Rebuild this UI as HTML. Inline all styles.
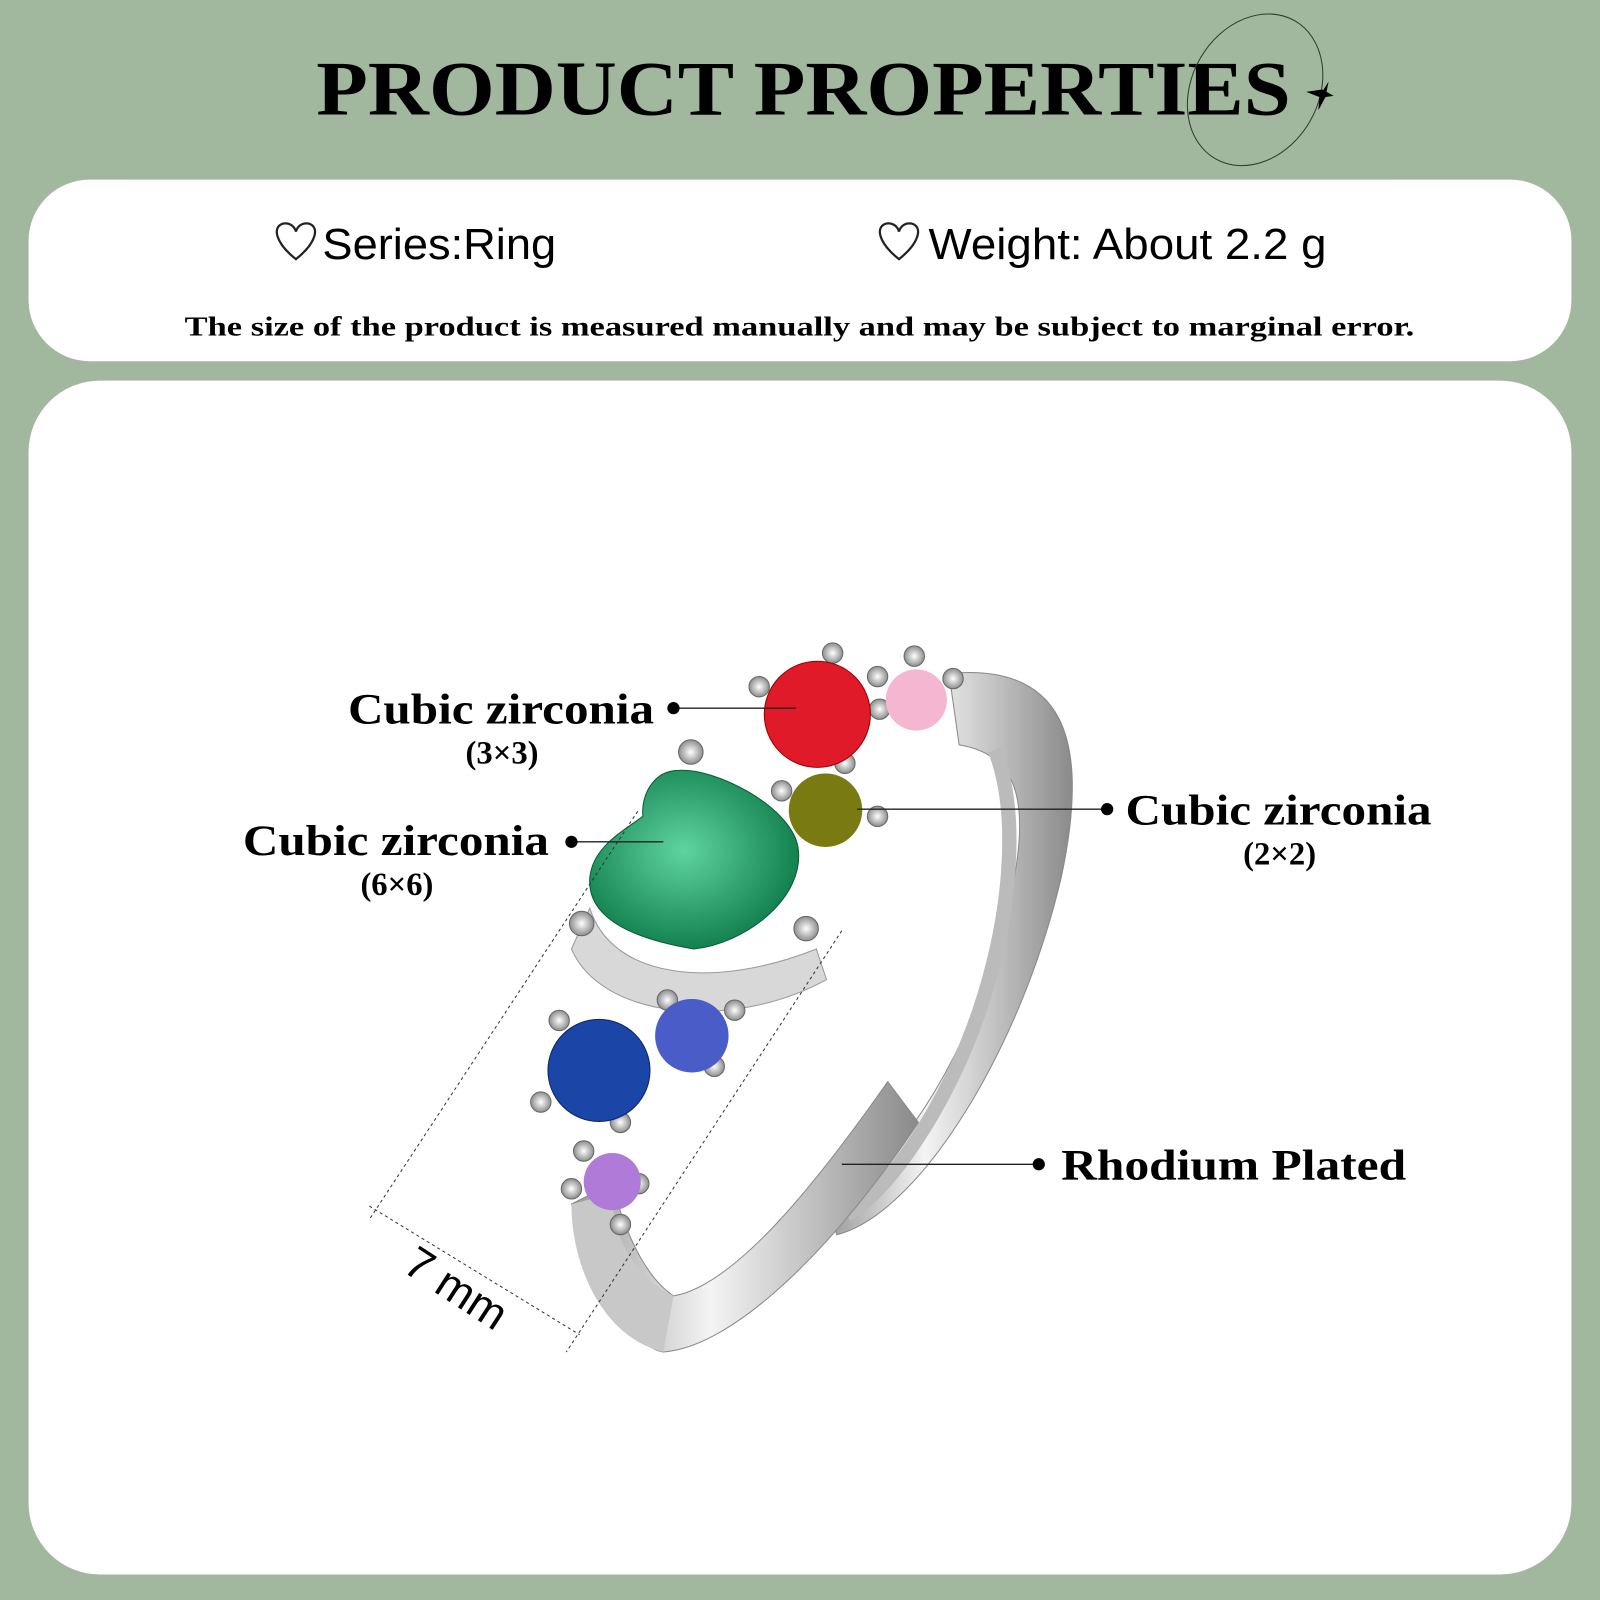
<!DOCTYPE html>
<html><head><meta charset="utf-8"><style>
html,body{margin:0;padding:0;background:#a2b89e}
svg{display:block}
.t{font-family:"Liberation Serif",serif;font-weight:bold}
.s{font-family:"Liberation Sans",sans-serif}
</style></head><body>
<svg width="1600" height="1600" viewBox="0 0 1568 1568" xmlns="http://www.w3.org/2000/svg">
<defs>
<linearGradient id="band" x1="0" y1="0" x2="1" y2="0"><stop offset="0" stop-color="#9a9a9a"/><stop offset="0.4" stop-color="#f4f4f4"/><stop offset="1" stop-color="#8a8a8a"/></linearGradient>
<radialGradient id="gr" cx="0.45" cy="0.45" r="0.6"><stop offset="0" stop-color="#5fd4a0"/><stop offset="1" stop-color="#0c7a48"/></radialGradient>
<radialGradient id="pr" r="0.6"><stop offset="0" stop-color="#fff"/><stop offset="1" stop-color="#777"/></radialGradient>
</defs>
<rect width="1568" height="1568" fill="#a2b89e"/>
<text x="310" y="112" class="t" font-size="76" textLength="955" lengthAdjust="spacingAndGlyphs">PRODUCT PROPERTIES</text>
<ellipse cx="1230" cy="88" rx="62" ry="78" transform="rotate(30 1230 88)" fill="none" stroke="#2c3a2c" stroke-width="1"/>
<path d="M1297 88 L1302 80 L1300 90 L1307 94 L1299 95 L1292 108 L1293 95 L1280 90 L1294 88 Z" fill="#000"/>
<rect x="28" y="176" width="1512" height="178" rx="60" fill="#fff"/>
<rect x="28" y="373" width="1512" height="1170" rx="70" fill="#fff"/>
<path d="M290 254 C270 238 266 222 278 219 C285 218 289 223 290 227 C291 223 295 218 302 219 C314 222 310 238 290 254Z" fill="none" stroke="#222" stroke-width="2.2"/>
<text x="316" y="254" class="s" font-size="43" textLength="229" lengthAdjust="spacingAndGlyphs">Series:Ring</text>
<path d="M881 254 C861 238 857 222 869 219 C876 218 880 223 881 227 C882 223 886 218 893 219 C905 222 901 238 881 254Z" fill="none" stroke="#222" stroke-width="2.2"/>
<text x="910" y="254" class="s" font-size="43" textLength="390" lengthAdjust="spacingAndGlyphs">Weight: About 2.2 g</text>
<text x="181" y="329" class="t" font-size="27" textLength="1205" lengthAdjust="spacingAndGlyphs">The size of the product is measured manually and may be subject to marginal error.</text>
<!-- ring -->
<path d="M930 660 C1040 650 1070 720 1040 860 C1000 1030 900 1190 820 1210 L810 1180 C880 1150 960 1020 990 880 C1010 790 1000 740 940 730 Z" fill="url(#band)" stroke="#888"/>
<path d="M975 735 C1000 800 990 900 960 990 C930 1080 870 1170 830 1190" fill="none" stroke="#bbb" stroke-width="14"/>
<path d="M560 1180 C580 1260 620 1320 650 1325 C720 1320 820 1220 900 1100 L870 1060 C800 1160 720 1260 660 1270 C630 1250 610 1200 600 1160 Z" fill="url(#band)" stroke="#888"/>
<path d="M560 1180 C560 1240 590 1310 650 1325 L660 1270 C620 1250 600 1210 600 1170Z" fill="#c8c8c8"/>
<path d="M578 890 C600 960 700 970 800 930 L810 960 C720 1010 590 1000 560 930Z" fill="#d8d8d8" stroke="#999"/>
<!-- prongs -->
<g fill="url(#pr)" stroke="#666" stroke-width="1">
<circle cx="744" cy="673" r="10"/><circle cx="816" cy="640" r="10"/><circle cx="860" cy="663" r="10"/><circle cx="896" cy="643" r="10"/><circle cx="934" cy="665" r="10"/>
<circle cx="784" cy="738" r="10"/><circle cx="828" cy="748" r="10"/><circle cx="862" cy="695" r="10"/><circle cx="766" cy="775" r="10"/><circle cx="860" cy="800" r="10"/>
<circle cx="548" cy="1000" r="10"/><circle cx="610" cy="1025" r="10"/><circle cx="654" cy="980" r="10"/><circle cx="720" cy="990" r="10"/><circle cx="700" cy="1045" r="10"/>
<circle cx="530" cy="1080" r="10"/><circle cx="608" cy="1100" r="10"/><circle cx="572" cy="1128" r="10"/><circle cx="626" cy="1160" r="10"/><circle cx="608" cy="1200" r="10"/><circle cx="560" cy="1165" r="10"/>
<circle cx="677" cy="737" r="12"/><circle cx="570" cy="905" r="12"/><circle cx="790" cy="910" r="12"/>
</g>
<path d="M680 930 C620 920 575 900 578 860 C581 830 610 815 630 800 C628 780 640 755 665 755 C700 752 775 790 782 830 C790 880 730 925 680 930 Z" fill="url(#gr)" stroke="#0a5a36"/>
<circle cx="801" cy="700" r="52" fill="#e01a28" stroke="#900"/>
<circle cx="898" cy="686" r="30" fill="#f4b6d0"/>
<circle cx="809" cy="794" r="36" fill="#7a7a12"/>
<circle cx="587" cy="1049" r="50" fill="#1c45a8" stroke="#0d2460"/>
<circle cx="678" cy="1015" r="36" fill="#4a5cc8"/>
<circle cx="600" cy="1158" r="28" fill="#b07ad8"/>
<!-- dimension -->
<g stroke="#333" stroke-width="1" stroke-dasharray="3,3" fill="none">
<line x1="625" y1="795" x2="362" y2="1195"/><line x1="825" y1="912" x2="555" y2="1325"/><line x1="362" y1="1182" x2="568" y2="1308"/>
</g>
<text x="0" y="0" class="s" font-size="44" transform="translate(393 1245) rotate(33)">7 mm</text>
<!-- labels -->
<g stroke="#222" stroke-width="1.3"><line x1="660" y1="694" x2="780" y2="694"/><line x1="560" y1="825" x2="650" y2="825"/><line x1="840" y1="793" x2="1085" y2="793"/><line x1="825" y1="1141" x2="1018" y2="1141"/></g>
<g fill="#000"><circle cx="660" cy="694" r="6"/><circle cx="560" cy="825" r="6"/><circle cx="1085" cy="793" r="6"/><circle cx="1018" cy="1141" r="6"/></g>
<g class="t" font-size="42">
<text x="341" y="709" textLength="300" lengthAdjust="spacingAndGlyphs">Cubic zirconia</text>
<text x="238" y="838" textLength="300" lengthAdjust="spacingAndGlyphs">Cubic zirconia</text>
<text x="1103" y="808" textLength="300" lengthAdjust="spacingAndGlyphs">Cubic zirconia</text>
<text x="1040" y="1156" textLength="338" lengthAdjust="spacingAndGlyphs">Rhodium Plated</text>
</g>
<g class="t" font-size="32">
<text x="492" y="748" text-anchor="middle">(3×3)</text>
<text x="389" y="877" text-anchor="middle">(6×6)</text>
<text x="1254" y="847" text-anchor="middle">(2×2)</text>
</g>
</svg>
</body></html>
